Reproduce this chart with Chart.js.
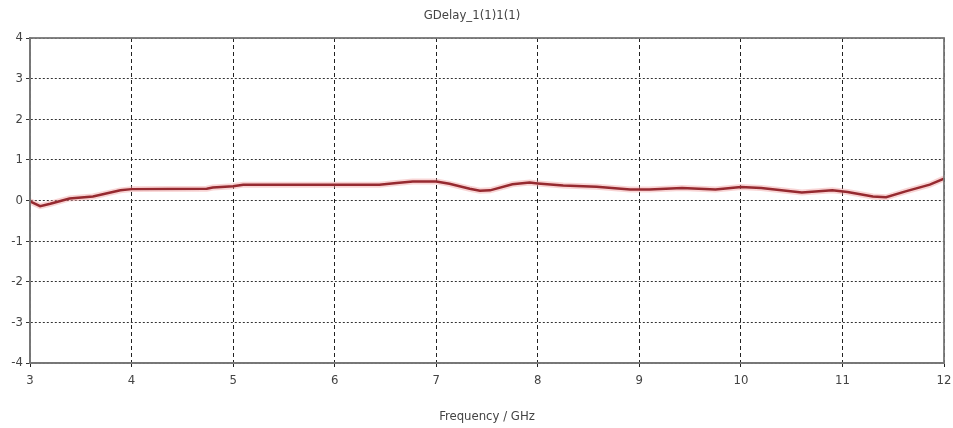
<!DOCTYPE html>
<html>
<head>
<meta charset="utf-8">
<script src="https://cdn.jsdelivr.net/npm/chart.js@4/dist/chart.umd.min.js"></script>
<style>
  html, body { margin: 0; padding: 0; background: #fff; }
  #wrap { width: 953px; height: 428px; }
</style>
</head>
<body>
<div id="wrap"><canvas id="gdelay"></canvas></div>
<script>
const chartTitle = 'GDelay_1(1)1(1)';
const xTitle = 'Frequency / GHz';

// frequency (GHz) and group delay
const freq = [3.0, 3.1, 3.2, 3.39, 3.62, 3.89, 4.0, 4.74, 4.8, 5.0, 5.1, 6.44, 6.61, 6.77, 7.0,
  7.13, 7.33, 7.43, 7.53, 7.75, 7.92, 8.0, 8.25, 8.58, 8.91, 9.1, 9.42, 9.75, 10.0, 10.2,
  10.6, 10.9, 11.05, 11.3, 11.43, 11.63, 11.86, 12.0];
const delay = [-0.02, -0.14, -0.08, 0.05, 0.1, 0.25, 0.28, 0.29, 0.32, 0.35, 0.39, 0.39, 0.43, 0.47, 0.47,
  0.41, 0.29, 0.24, 0.25, 0.40, 0.44, 0.42, 0.37, 0.34, 0.27, 0.27, 0.31, 0.27, 0.33, 0.31,
  0.2, 0.25, 0.21, 0.1, 0.08, 0.23, 0.39, 0.54];

const xRange = [3, 12];
const yRange = [-4, 4];

const points = freq.map((f, i) => ({x: f, y: delay[i]}));
const fontFamily = '"DejaVu Sans Condensed", "Liberation Sans Narrow", "Liberation Sans", sans-serif';

// solid frame around the plot area
const frame = {
  id: 'frame',
  afterDraw(chart) {
    const {ctx, chartArea: a} = chart;
    ctx.save();
    ctx.strokeStyle = '#777';
    ctx.lineWidth = 1.8;
    ctx.strokeRect(a.left, a.top, a.right - a.left, a.bottom - a.top);
    ctx.restore();
  }
};

new Chart(document.getElementById('gdelay'), {
  type: 'line',
  data: {
    datasets: [
      {
        // dark trace on top
        data: points,
        borderColor: '#962a30',
        borderWidth: 2.5,
        pointRadius: 0,
        tension: 0,
        order: 1
      },
      {
        // soft pink glow underneath
        data: points,
        borderColor: 'rgba(240, 160, 160, 0.45)',
        borderWidth: 6,
        pointRadius: 0,
        tension: 0,
        order: 2
      }
    ]
  },
  options: {
    responsive: true,
    maintainAspectRatio: false,
    animation: false,
    layout: { padding: { left: 0, right: 9, top: 0, bottom: 0 } },
    plugins: {
      legend: { display: false },
      tooltip: { enabled: false },
      title: {
        display: true,
        text: chartTitle,
        color: '#444',
        font: { family: fontFamily, size: 13, weight: 'normal' },
        padding: { top: 8, bottom: 14.4 }
      }
    },
    scales: {
      x: {
        type: 'linear',
        min: xRange[0],
        max: xRange[1],
        ticks: { stepSize: 1, color: '#444', padding: 6, font: { family: fontFamily, size: 13 } },
        grid: { color: '#222', lineWidth: 1, tickLength: 4 },
        border: { display: true, color: '#777', width: 1.8, dash: [4, 3] },
        title: { display: true, text: xTitle, color: '#444', font: { family: fontFamily, size: 13 }, padding: { top: 4 } },
        afterFit(scale) {
          scale.height = 65;
          scale.paddingRight = 0;
        }
      },
      y: {
        min: yRange[0],
        max: yRange[1],
        ticks: { stepSize: 1, color: '#444', padding: 3, font: { family: fontFamily, size: 13 } },
        grid: { color: '#333', lineWidth: 1, tickLength: 4 },
        border: { display: true, color: '#777', width: 1.8, dash: [2, 2] },
        afterFit(scale) { scale.width = 30; }
      }
    }
  },
  plugins: [frame]
});
</script>
</body>
</html>
